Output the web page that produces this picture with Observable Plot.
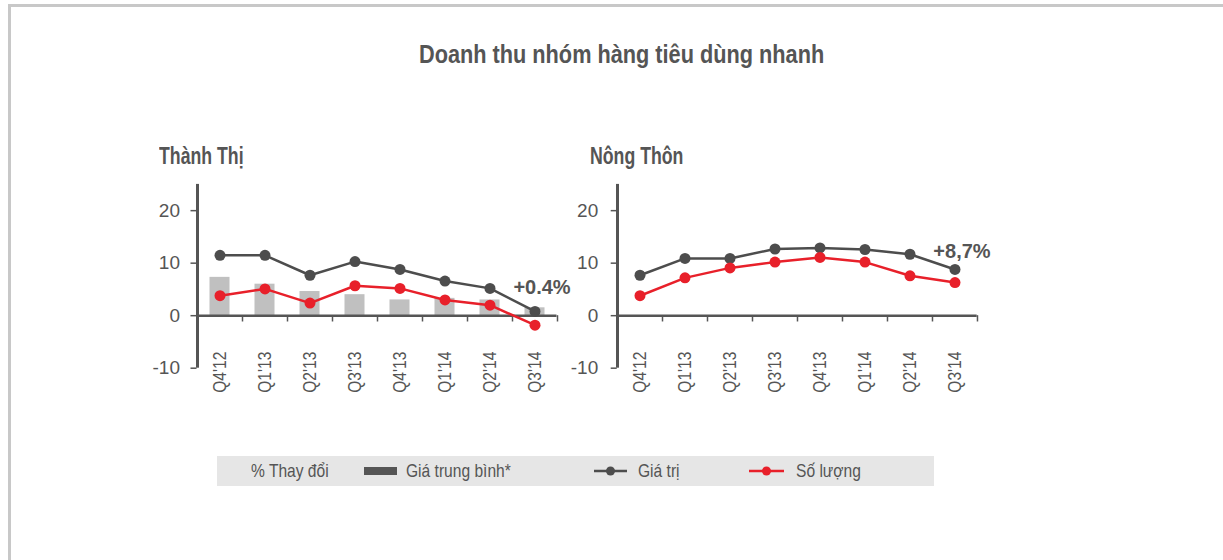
<!DOCTYPE html>
<html>
<head>
<meta charset="utf-8">
<script src="https://cdn.jsdelivr.net/npm/d3@7"></script>
<script src="https://cdn.jsdelivr.net/npm/@observablehq/plot@0.6"></script>
<style>
  html, body { margin: 0; padding: 0; background: #fff; }
  #page { position: relative; width: 1223px; height: 560px; overflow: hidden; background: #fff;
    font-family: "Liberation Sans", Arial, sans-serif; color: #555; }
  .abs { position: absolute; white-space: nowrap; line-height: 1; }
  .squeeze { display: inline-block; transform-origin: left center; }
  .title { font-size: 26px; font-weight: bold; }
  .sub { font-size: 23px; font-weight: bold; }
  .chart { position: absolute; top: 170px; }
  .chart svg { overflow: visible; }
  #legend { position: absolute; left: 217px; top: 456px; width: 717px; height: 30px; background: #e6e6e6; }
  #legend .item { position: absolute; top: 0; height: 30px; display: flex; align-items: center; font-size: 19px; color: #555; white-space: nowrap; }
</style>
</head>
<body>
<div id="page">
  <div class="abs" style="left:8px;top:4px;width:1215px;height:3px;background:#c8c8c8;"></div>
  <div class="abs" style="left:8px;top:4px;width:3px;height:556px;background:#c8c8c8;"></div>
  <div class="abs title" style="left:419px;top:41px;"><span class="squeeze" style="transform:scaleX(0.835)">Doanh thu nhóm hàng tiêu dùng nhanh</span></div>
  <div class="abs sub" style="left:159px;top:145px;"><span class="squeeze" style="transform:scaleX(0.77)">Thành Thị</span></div>
  <div class="abs sub" style="left:590px;top:145px;"><span class="squeeze" style="transform:scaleX(0.77)">Nông Thôn</span></div>
  <div class="chart" id="left" style="left:150px;"></div>
  <div class="chart" id="right" style="left:570px;"></div>
  <div id="legend"></div>
</div>
<script>
const quarters = ["Q4'12", "Q1'13", "Q2'13", "Q3'13", "Q4'13", "Q1'14", "Q2'14", "Q3'14"];
const urbanValue    = [11.5, 11.5, 7.7, 10.3, 8.8, 6.6, 5.2, 0.8];
const urbanVolume   = [3.8, 5.1, 2.4, 5.7, 5.2, 3.0, 2.0, -1.8];
const urbanAvgPrice = [7.3, 6.0, 4.6, 4.0, 3.0, 3.3, 3.0, 1.5];
const ruralValue    = [7.7, 10.9, 10.9, 12.7, 12.9, 12.6, 11.7, 8.8];
const ruralVolume   = [3.8, 7.2, 9.1, 10.2, 11.1, 10.2, 7.6, 6.3];
const yTicks = [-10, 0, 10, 20];
const urbanNote = {q: "Q3'14", y: 5.35, label: "+0.4%"};
const ruralNote = {q: "Q3'14", y: 12.2, label: "+8,7%"};
const legendItems = ["% Thay đổi", "Giá trung bình*", "Giá trị", "Số lượng"];

const GRAY = "#4d4d4d", RED = "#e8202a", BAR = "#c0c0c0", AXIS = "#555";
const FONT = "Liberation Sans, Arial, sans-serif";

function panel(values, volumes, bars, note, marginLeft, tickPadding) {
  const rows = quarters.map((q, i) => ({q, value: values[i], volume: volumes[i], bar: bars ? bars[i] : null}));
  const marks = [];
  if (bars) marks.push(Plot.barY(rows, {x: "q", y: "bar", fill: BAR, insetLeft: 12.5, insetRight: 12.5}));
  marks.push(
    Plot.ruleY([0], {stroke: AXIS, strokeWidth: 2.5}),
    Plot.ruleX(quarters, {x: d => d, y1: 0, y2: -1.2, dx: 22.5, stroke: AXIS, strokeWidth: 1.5}),
    Plot.ruleX([quarters[0]], {x: d => d, y1: -10, y2: 25, dx: -22.5, stroke: AXIS, strokeWidth: 3}),
    Plot.axisY({ticks: yTicks, tickSize: 6, tickPadding, fontSize: 19, fontFamily: FONT, fill: AXIS, stroke: AXIS, strokeWidth: 1.5, label: null,
      tickFormat: d => (d < 0 ? "-" + Math.abs(d) : String(d))}),
    Plot.text(quarters, {x: d => d, y: 0, text: d => d, rotate: -90, textAnchor: "end", dy: 36, fontSize: 19, fontFamily: FONT, fill: AXIS}),
    Plot.lineY(rows, {x: "q", y: "value", stroke: GRAY, strokeWidth: 2.5}),
    Plot.dot(rows, {x: "q", y: "value", r: 5.5, fill: GRAY}),
    Plot.lineY(rows, {x: "q", y: "volume", stroke: RED, strokeWidth: 2.5}),
    Plot.dot(rows, {x: "q", y: "volume", r: 5.5, fill: RED}),
    Plot.text([note], {x: "q", y: "y", text: "label", dx: 7, fontSize: 20, fontWeight: "bold", fontFamily: FONT, fill: AXIS})
  );
  const svg = Plot.plot({
    width: marginLeft + 360 + 24,
    height: 235,
    marginLeft,
    marginRight: 24,
    marginTop: 13.9,
    marginBottom: 37.3,
    x: {type: "band", domain: quarters, padding: 0, axis: null},
    y: {domain: [-10, 25], axis: null},
    style: {background: "transparent", overflow: "visible"},
    marks
  });
  // condense the rotated category labels along their length
  const textGroups = svg.querySelectorAll('g[aria-label="text"]');
  if (textGroups.length) {
    textGroups[0].querySelectorAll("text").forEach(t => {
      t.setAttribute("transform", (t.getAttribute("transform") || "") + " scale(0.82,1)");
    });
  }
  return svg;
}

document.getElementById("left").appendChild(panel(urbanValue, urbanVolume, urbanAvgPrice, urbanNote, 46.5, 11));
document.getElementById("right").appendChild(panel(ruralValue, ruralVolume, null, ruralNote, 46.7, 13));

// legend
const legend = document.getElementById("legend");
const pos = [34, 147, 377, 532];
const sym = [
  "",
  `<svg width="34" height="10" style="margin-right:8px"><rect x="0" y="1" width="33" height="8" fill="${AXIS}"/></svg>`,
  `<svg width="34" height="12" style="margin-right:10px"><line x1="0" x2="33" y1="6" y2="6" stroke="${GRAY}" stroke-width="2.5"/><circle cx="16.5" cy="6" r="4.5" fill="${GRAY}"/></svg>`,
  `<svg width="35" height="12" style="margin-right:12px"><line x1="0" x2="35" y1="6" y2="6" stroke="${RED}" stroke-width="2.5"/><circle cx="17.5" cy="6" r="4.5" fill="${RED}"/></svg>`
];
legendItems.forEach((t, i) => {
  const d = document.createElement("div");
  d.className = "item";
  d.style.left = pos[i] + "px";
  d.innerHTML = sym[i] + `<span class="squeeze" style="transform:scaleX(0.82)">${t}</span>`;
  legend.appendChild(d);
});
</script>
</body>
</html>
